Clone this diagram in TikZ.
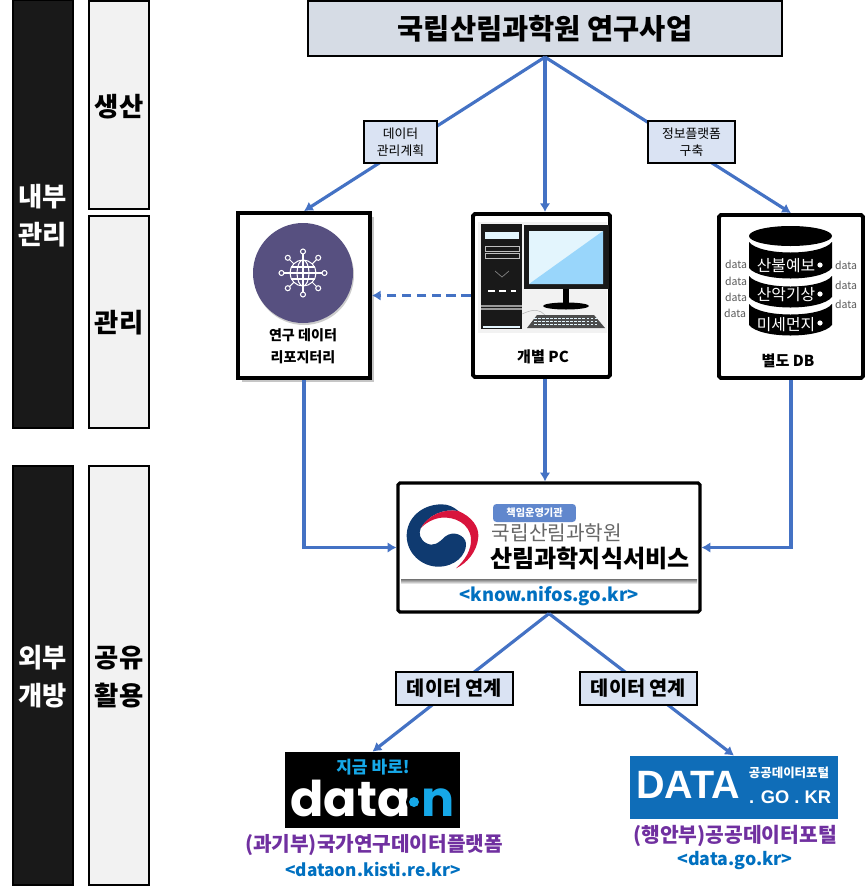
\documentclass[tikz,border=0pt]{standalone}
\usepackage{fontspec}
\setmainfont{Noto Sans CJK KR}
\newfontfamily\logofont{Poppins}
\newfontfamily\arialfont{Liberation Sans}
\usetikzlibrary{arrows.meta}
\usetikzlibrary{calc}
\usetikzlibrary{shadows}

\definecolor{flowblue}{HTML}{4472C4}
\definecolor{titlefill}{HTML}{D6DCE5}
\definecolor{tagfill}{HTML}{DAE3F3}
\definecolor{linkblue}{HTML}{0070C0}
\definecolor{orgpurple}{HTML}{7030A0}
\definecolor{onblue}{HTML}{16A8E8}
\definecolor{globefill}{HTML}{575080}
\definecolor{navy}{HTML}{0F3A70}
\definecolor{flagred}{HTML}{D8143C}
\definecolor{portalblue}{HTML}{0F6DB8}
\definecolor{screenlight}{HTML}{E3F5FD}
\definecolor{screensky}{HTML}{99D6FB}

\tikzset{
  sidebar/.style={draw=black, fill=black!90, line width=1.2pt, inner sep=0pt, minimum width=1.2cm},
  stagebox/.style={draw=black, fill=black!5, line width=1.2pt, inner sep=0pt, minimum width=1.2cm},
  sidetext/.style={align=center, inner sep=0pt, font=\bfseries\fontsize{15}{21.5}\selectfont},
  cardbox/.style={draw=black, fill=white, line width=2.2pt, inner sep=0pt},
  tagbox/.style={draw=black, fill=tagfill, line width=0.6pt, align=center, inner sep=0pt},
  smalltext/.style={align=center, inner sep=0pt, font=\bfseries\fontsize{8}{12.5}\selectfont},
  cardtext/.style={inner sep=0pt, font=\bfseries\fontsize{8.6}{10}\selectfont},
  datatext/.style={inner sep=0pt, text=black!65, font=\fontsize{6}{7}\selectfont},
  bandtext/.style={inner sep=0pt, text=white, font=\fontsize{9}{10}\selectfont},
  flow/.style={draw=flowblue, line width=1.8pt, -{Latex[length=5pt,width=6pt]}},
}

\begin{document}
\begin{tikzpicture}[x=0.02cm, y=-0.02cm]
  \useasboundingbox (0, 0) rectangle (867, 893);

  % Left columns
  \node [sidebar, minimum height=8.56cm] (inner) at (43, 214) {};
  \node [sidebar, minimum height=8.38cm] (outer) at (43, 675.5) {};
  \node [stagebox, minimum height=4.16cm] (produce) at (119, 105) {};
  \node [stagebox, minimum height=4.24cm] (manage) at (119, 322) {};
  \node [stagebox, minimum height=8.38cm] (share) at (119, 675.5) {};
  \node [sidetext, text=white] (innertext) at (43, 216) {내부\\관리};
  \node [sidetext, text=white] (outertext) at (43, 677) {외부\\개방};
  \node [sidetext] (producetext) at (119, 107) {생산};
  \node [sidetext] (managetext) at (119, 323) {관리};
  \node [sidetext] (sharetext) at (119, 677) {공유\\활용};

  % Boxes
  \node [draw=black, fill=titlefill, line width=1.2pt, minimum width=9.48cm, minimum height=1.1cm, inner sep=0pt,
    font=\bfseries\fontsize{16.2}{18}\selectfont] (title) at (545, 28.5) {국립산림과학원 연구사업};
  \node [cardbox, minimum width=2.64cm, minimum height=3.3cm,
    drop shadow={opacity=0.45, shadow xshift=2pt, shadow yshift=-2pt}] (repo) at (304, 295.5) {};
  \node [cardbox, rounded corners=1pt, minimum width=2.74cm, minimum height=3.26cm] (pc) at (541.5, 295.5) {};
  \node [cardbox, rounded corners=1pt, minimum width=2.88cm, minimum height=3.26cm] (db) at (791, 296.5) {};
  \node [cardbox, rounded corners=1pt, line width=1.8pt, minimum width=6.04cm, minimum height=2.58cm] (know) at (549, 547.5) {};
  \node [fill=black, minimum width=3.5cm, minimum height=1.52cm, inner sep=0pt] (dataon) at (372.5, 790) {};
  \node [fill=portalblue, minimum width=4.16cm, minimum height=1.26cm, inner sep=0pt] (portal) at (734, 787.5) {};

  % Connectors
  \draw [flow] (title.south) -- (repo.north);
  \draw [flow] (title.south) -- (title.south |- pc.north);
  \draw [flow] (title.south) -- (db.north);
  \draw [flow, dash pattern=on 5.5pt off 3pt] (pc.west) -- (repo.east);
  \draw [flow] (repo.south) |- (know.west);
  \draw [flow] (title.south |- pc.south) -- (title.south |- know.north);
  \draw [flow] (db.south) |- (know.east);
  \draw [flow] (know.south) -- (dataon.north);
  \draw [flow] (know.south) -- (portal.north);

  % Labels on connectors
  \node [tagbox, minimum width=1.46cm, minimum height=0.84cm, font=\fontsize{7.3}{9.5}\selectfont] (plan) at (400.5, 142) {데이터\\관리계획};
  \node [tagbox, minimum width=1.74cm, minimum height=0.84cm, font=\fontsize{7.3}{9.5}\selectfont] (platform) at (691.5, 142) {정보플랫폼\\구축};
  \node [tagbox, minimum width=2.34cm, minimum height=0.66cm, font=\bfseries\fontsize{11.2}{13}\selectfont] (linkleft) at (454.5, 688.5) {데이터 연계};
  \node [tagbox, minimum width=2.34cm, minimum height=0.66cm, font=\bfseries\fontsize{11.2}{13}\selectfont] (linkright) at (638.5, 688.5) {데이터 연계};

  % Repository
  \fill [black!20] (304, 275) circle [radius=50];
  \fill [globefill] (303, 273) circle [radius=50];
  \begin{scope}[draw=white, line width=0.6pt]
    \draw (303, 273) circle [radius=13];
    \draw (303, 273) ellipse [x radius=6, y radius=13];
    \draw (290, 273) -- (316, 273);
    \draw (291, 267) -- (315, 267);
    \draw (291, 279) -- (315, 279);
    \draw (303, 260) -- (303, 286);
    \foreach \a in {0, 45, ..., 315} {
      \draw ($(303, 273) + (\a:13)$) -- ($(303, 273) + (\a:19)$);
      \draw ($(303, 273) + (\a:21.5)$) circle [radius=2.5];
    }
  \end{scope}
  \node [smalltext] (repotext) at (303, 346) {연구 데이터\\리포지터리};

  % PC
  \fill [black!5] (478, 222) rectangle (607, 333);
  \fill [black!90] (481, 224) rectangle (522, 329);
  \fill [black!90] (524, 225) rectangle (609, 289);
  \fill [screenlight] (529, 231) rectangle (603, 284);
  \fill [screensky] (529, 284) -- (603, 231) -- (603, 284) -- cycle;
  \fill [screenlight] (485, 232) rectangle (519, 239);
  \draw [black!25, line width=0.5pt] (485, 246) rectangle (519, 251);
  \draw [black!25, line width=0.5pt] (485, 253) rectangle (519, 258);
  \draw [black!50, line width=0.4pt] (495, 271) -- (502, 277) -- (509, 271);
  \draw [white, line width=0.8pt, dash pattern=on 4pt off 2.5pt] (488, 291) -- (516, 291);
  \draw [black!40, line width=0.8pt] (481, 306) -- (522, 306);
  \draw [black!40, line width=0.8pt] (481, 309) -- (522, 309);
  \fill [screenlight] (483, 326) rectangle (520, 328);
  \fill [black] (563, 289) rectangle (569, 305);
  \fill [black] (566, 306) ellipse [x radius=23, y radius=3.5];
  \draw [black!30, line width=0.3pt] (522, 314) .. controls (535, 308) and (540, 310) .. (545, 315);
  \fill [black!70] (537, 315) -- (594, 315) -- (605, 328) -- (527, 328) -- cycle;
  \foreach \r in {318, 321, 324} {
    \draw [screenlight, line width=0.5pt, dash pattern=on 1.5pt off 0.8pt] (534, \r) -- (598, \r);
  }
  \node [cardtext] (pctext) at (543, 357) {개별 PC};

  % DB
  \fill [black] (790.5, 236) ellipse [x radius=41.5, y radius=10];
  \foreach \t/\b in {242/268, 276/297, 304/325} {
    \fill [black] (749, \t) .. controls (760, \t + 14) and (821, \t + 14) .. (832, \t) -- (832, \b)
      .. controls (821, \b + 14) and (760, \b + 14) .. (749, \b) -- cycle;
  }
  \node [bandtext] (fire) at (786, 266) {산불예보};
  \node [bandtext] (weather) at (786, 295) {산악기상};
  \node [bandtext] (dust) at (786, 325) {미세먼지};
  \foreach \y in {265, 294, 323} {
    \fill [white] (820, \y) circle [radius=2.6];
  }
  \foreach \n/\x/\y in {a/736/264, b/736/281, c/736/297, d/735/313, e/846/265, f/846/285, g/846/304} {
    \node [datatext] (data\n) at (\x, \y) {data};
  }
  \node [cardtext] (dbtext) at (788, 361) {별도 DB};

  % Forest service logo
  \begin{scope}[shift={(400, 495)}, x=0.00667cm, y=-0.00667cm]
    \fill [navy] (125, 28) .. controls (65, 28) and (20, 70) .. (20, 122) .. controls (20, 175) and (65, 215) .. (115, 215)
      .. controls (165, 215) and (200, 180) .. (198, 145) .. controls (195, 120) and (160, 105) .. (135, 125)
      .. controls (115, 145) and (100, 155) .. (80, 145) .. controls (60, 135) and (55, 115) .. (62, 100)
      .. controls (85, 60) and (130, 40) .. (175, 48) .. controls (160, 35) and (145, 28) .. (125, 28) -- cycle;
    \fill [flagred] (62, 100) .. controls (85, 60) and (130, 40) .. (175, 48) .. controls (215, 65) and (237, 95) .. (235, 125)
      .. controls (232, 170) and (200, 205) .. (168, 220) .. controls (195, 195) and (215, 165) .. (213, 130)
      .. controls (208, 85) and (165, 65) .. (125, 68) .. controls (100, 70) and (75, 85) .. (62, 100) -- cycle;
  \end{scope}
  \node [fill=flowblue!85, rounded corners=2pt, text=white, minimum width=1.66cm, minimum height=0.36cm, inner sep=0pt,
    font=\bfseries\fontsize{5.8}{7}\selectfont] (agency) at (534.5, 513) {책임운영기관};
  \node [inner sep=0pt, text=black!60, font=\fontsize{11.5}{13}\selectfont] (nifos) at (557, 532.5) {국립산림과학원};
  \node [inner sep=0pt, font=\bfseries\fontsize{13.7}{16}\selectfont] (service) at (590, 558) {산림과학지식서비스};
  \shade [top color=black!55, bottom color=white] (401, 579) rectangle (697, 584);
  \node [inner sep=0pt, text=linkblue, font=\bfseries\fontsize{10.4}{12}\selectfont] (knowurl) at (549, 596) {<know.nifos.go.kr>};

  % Logos
  \node [inner sep=0pt, text=onblue, font=\bfseries\fontsize{9.7}{11}\selectfont] (goon) at (373, 767) {지금 바로!};
  \node [inner sep=0pt, text=white, font=\logofont\bfseries\fontsize{28}{30}\selectfont, anchor=base west] (onword) at (290, 816) {data};
  \fill [black] (414, 802) circle [radius=8];
  \fill [onblue] (414, 802) circle [radius=5];
  \node [inner sep=0pt, text=onblue, font=\logofont\bfseries\fontsize{28}{30}\selectfont, anchor=base west] (onletter) at (421, 816) {n};
  \node [inner sep=0pt, text=white, font=\arialfont\bfseries\fontsize{22.5}{25}\selectfont] (portalword) at (688, 785) {DATA};
  \node [inner sep=0pt, text=white, font=\bfseries\fontsize{7.1}{8}\selectfont] (portalname) at (789, 773) {공공데이터포털};
  \node [inner sep=0pt, text=white, font=\arialfont\bfseries\fontsize{10.4}{12}\selectfont] (portalkr) at (790, 797) {. GO . KR};

  % Captions
  \node [inner sep=0pt, text=orgpurple, font=\bfseries\fontsize{11.5}{14}\selectfont] (msit) at (374, 845) {(과기부)국가연구데이터플랫폼};
  \node [inner sep=0pt, text=linkblue, font=\bfseries\fontsize{9.8}{12}\selectfont] (msiturl) at (373, 869) {<dataon.kisti.re.kr>};
  \node [inner sep=0pt, text=orgpurple, font=\bfseries\fontsize{11.6}{14}\selectfont] (mois) at (735, 836) {(행안부)공공데이터포털};
  \node [inner sep=0pt, text=linkblue, font=\bfseries\fontsize{10.1}{12}\selectfont] (moisurl) at (735, 861) {<data.go.kr>};
\end{tikzpicture}
\end{document}
